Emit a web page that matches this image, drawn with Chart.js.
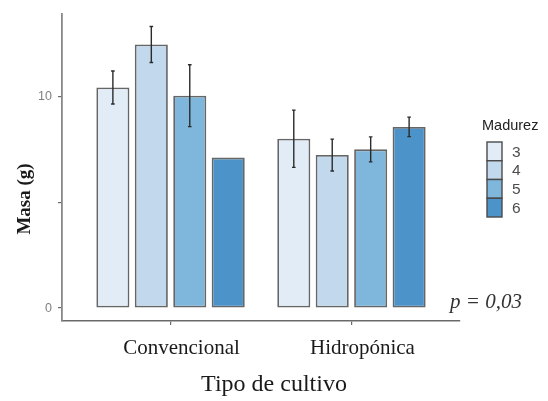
<!DOCTYPE html>
<html>
<head>
<meta charset="utf-8">
<script src="https://cdn.jsdelivr.net/npm/chart.js@4"></script>
<style>
  body { margin: 0; background: #fff; }
  canvas { display: block; }
</style>
</head>
<body>
<canvas id="chart" width="548" height="401"></canvas>
<script>
// categories and series
var categories = ['Convencional', 'Hidropónica'];
var maturity = ['3', '4', '5', '6'];
var mat3 = [10.41, 7.99];
var mat4 = [12.44, 7.22];
var mat5 = [10.02, 7.49];
var mat6 = [7.1, 8.55];
var err3 = [0.78, 1.35];
var err4 = [0.85, 0.75];
var err5 = [1.46, 0.59];
var err6 = [0, 0.46];
var yTicks = [0, 5, 10];
var yTickLabels = ['0', '', '10'];
var xTitle = 'Tipo de cultivo';
var yTitle = 'Masa (g)';
var legendTitle = 'Madurez';
var pText = 'p = 0,03';

var colors = ['#e2ecf7', '#c2d8ed', '#7fb6db', '#4b93c8'];
var series = [mat3, mat4, mat5, mat6];
var errors = [err3, err4, err5, err6];

var serif = '"Liberation Serif", "DejaVu Serif", serif';
var sans = '"Liberation Sans", Arial, sans-serif';

let toPoints = (vals) => vals.map((v, i) => ({ x: i + 1, y: v }));

let datasets = maturity.map((m, k) => ({
    label: m,
    data: toPoints(series[k]),
    err: errors[k],
    backgroundColor: colors[k],
    borderColor: '#666',
    borderWidth: 1.8,
    borderSkipped: false,
    categoryPercentage: 0.85,
    barPercentage: 0.86
}));

// error bars on top of each bar
let errorBars = {
    id: 'errorBars',
    afterDatasetsDraw(chart) {
        let ctx = chart.ctx;
        let y = chart.scales.y;
        ctx.save();
        ctx.strokeStyle = '#2b2b2b';
        ctx.lineWidth = 1.4;
        chart.data.datasets.forEach((ds, k) => {
            chart.getDatasetMeta(k).data.forEach((bar, i) => {
                let e = ds.err[i];
                if (!e) return;
                let v = ds.data[i].y;
                let top = y.getPixelForValue(v + e);
                let bot = y.getPixelForValue(v - e);
                ctx.beginPath();
                ctx.moveTo(bar.x, top); ctx.lineTo(bar.x, bot);
                ctx.moveTo(bar.x - 1.8, top); ctx.lineTo(bar.x + 1.8, top);
                ctx.moveTo(bar.x - 1.8, bot); ctx.lineTo(bar.x + 1.8, bot);
                ctx.stroke();
            });
        });
        ctx.restore();
    }
};

// axis titles, legend and p-value note
let extras = {
    id: 'extras',
    afterDraw(chart) {
        let ctx = chart.ctx;
        ctx.save();
        ctx.fillStyle = '#1a1a1a';
        ctx.textAlign = 'center';
        ctx.textBaseline = 'middle';
        ctx.font = '24px ' + serif;
        ctx.fillText(xTitle, 274, 385);

        ctx.save();
        ctx.translate(25, 199);
        ctx.rotate(-Math.PI / 2);
        ctx.font = 'bold 19px ' + serif;
        ctx.fillText(yTitle, 0, 0);
        ctx.restore();

        ctx.fillStyle = '#333';
        ctx.font = 'italic 21px ' + serif;
        ctx.fillText(pText, 486, 302);

        // legend
        ctx.textAlign = 'left';
        ctx.font = '14.5px ' + sans;
        ctx.fillStyle = '#222';
        ctx.fillText(legendTitle, 482, 126);
        let h = 18.75;
        maturity.forEach((m, k) => {
            let top = 142 + k * h;
            ctx.fillStyle = colors[k];
            ctx.fillRect(487, top, 15, h);
            ctx.strokeStyle = '#4a4a4a';
            ctx.lineWidth = 1.4;
            ctx.strokeRect(487, top, 15, h);
            ctx.fillStyle = '#4d4d4d';
            ctx.font = '15.5px ' + sans;
            ctx.fillText(m, 512, top + h / 2 + 1);
        });
        ctx.restore();
    }
};

new Chart(document.getElementById('chart'), {
    type: 'bar',
    data: { datasets: datasets },
    options: {
        responsive: false,
        animation: false,
        devicePixelRatio: 1,
        layout: { padding: { left: 0, right: 88, top: 13, bottom: 0 } },
        plugins: { legend: { display: false }, tooltip: { enabled: false } },
        scales: {
            x: {
                type: 'linear',
                min: 0.4,
                max: 2.6,
                offset: false,
                afterFit: (s) => { s.height = 80; },
                afterBuildTicks: (s) => { s.ticks = categories.map((c, i) => ({ value: i + 1 })); },
                ticks: {
                    callback: (v) => categories[v - 1],
                    font: { family: serif, size: 21 },
                    color: '#1a1a1a',
                    padding: 11,
                    labelOffset: 11,
                    maxRotation: 0
                },
                grid: { offset: false, drawOnChartArea: false, tickLength: 4, color: '#6a6a6a', lineWidth: 1.2 },
                border: { color: '#6a6a6a', width: 1.5 }
            },
            y: {
                min: -0.61,
                max: 13.9,
                afterFit: (s) => { s.width = 62; },
                afterBuildTicks: (s) => { s.ticks = yTicks.map((v) => ({ value: v })); },
                ticks: {
                    callback: (v) => yTickLabels[yTicks.indexOf(v)],
                    font: { family: sans, size: 12.5 },
                    color: '#7f7f7f',
                    padding: 6
                },
                grid: { drawOnChartArea: false, tickLength: 4, color: '#6a6a6a', lineWidth: 1.2 },
                border: { color: '#888', width: 1.8 }
            }
        }
    },
    plugins: [errorBars, extras]
});
</script>
</body>
</html>
